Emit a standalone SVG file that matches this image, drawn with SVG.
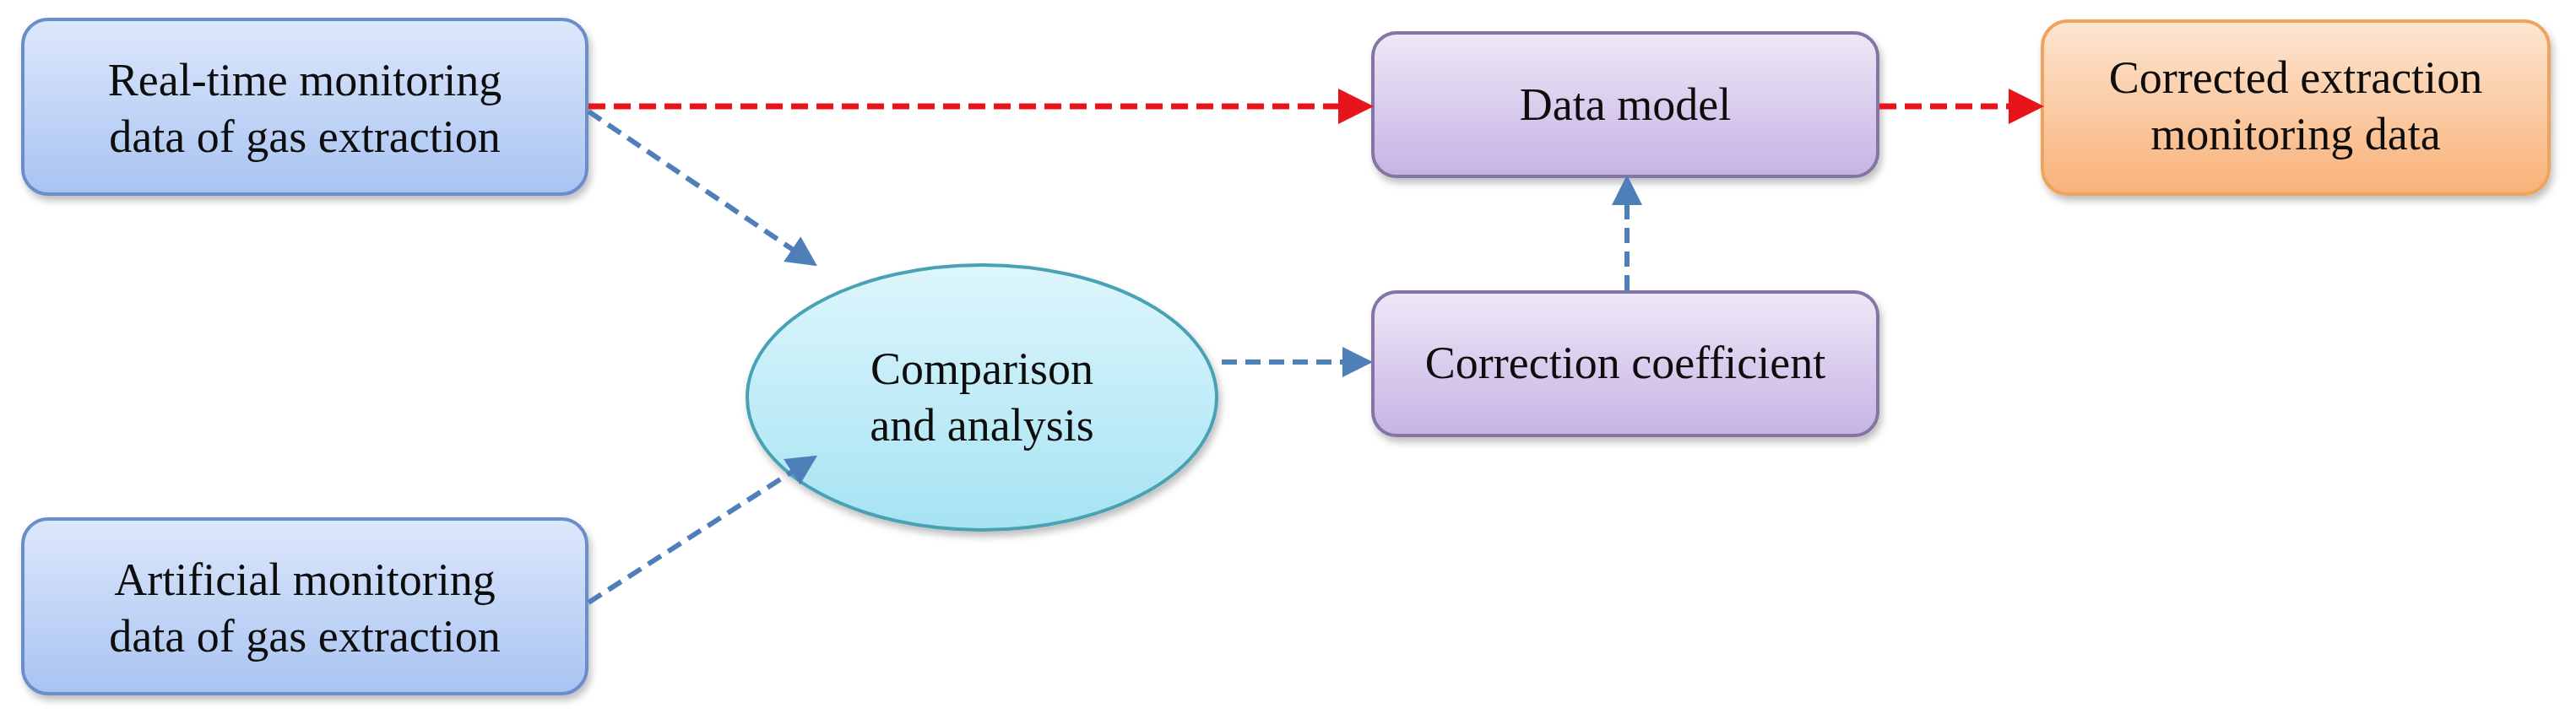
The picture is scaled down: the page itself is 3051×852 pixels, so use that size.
<svg xmlns="http://www.w3.org/2000/svg" width="3051" height="852" viewBox="0 0 3051 852">
<style>
text{font-family:"Liberation Serif","Times New Roman",serif;font-size:54px;fill:#111;text-anchor:middle}
.blue{fill:url(#gb);stroke:#6b8dcc;stroke-width:4}
.purp{fill:url(#gp);stroke:#8474a4;stroke-width:4}
.orng{fill:url(#go);stroke:#f0a35e;stroke-width:4}
.red{stroke:#e8141c;stroke-width:7;stroke-dasharray:20 10;fill:none;marker-end:url(#ar)}
.bl{stroke:#4f7fb8;stroke-width:6;stroke-dasharray:18 10;fill:none;marker-end:url(#ab)}
</style>
<defs>
<linearGradient id="gb" x1="0" y1="0" x2="0" y2="1"><stop offset="0" stop-color="#dde8fc"/><stop offset="1" stop-color="#a8c3f1"/></linearGradient>
<linearGradient id="gp" x1="0" y1="0" x2="0" y2="1"><stop offset="0" stop-color="#eee8f7"/><stop offset="1" stop-color="#c6b3e4"/></linearGradient>
<linearGradient id="go" x1="0" y1="0" x2="0" y2="1"><stop offset="0" stop-color="#fde6d2"/><stop offset="1" stop-color="#f9b178"/></linearGradient>
<linearGradient id="ge" x1="0" y1="0" x2="0" y2="1"><stop offset="0" stop-color="#ddf6fc"/><stop offset="1" stop-color="#a6e3f3"/></linearGradient>
<filter id="sh" x="-5%" y="-5%" width="110%" height="120%"><feDropShadow dx="3" dy="6" stdDeviation="4" flood-color="#000" flood-opacity="0.25"/></filter>
<marker id="ar" markerWidth="6" markerHeight="6" refX="5" refY="3" orient="auto" markerUnits="strokeWidth"><path d="M0,0 L6,3 L0,6 Z" fill="#e8141c"/></marker>
<marker id="ab" markerWidth="6" markerHeight="6" refX="5" refY="3" orient="auto" markerUnits="strokeWidth"><path d="M0,0 L6,3 L0,6 Z" fill="#4f7fb8"/></marker>
</defs>
<rect width="3051" height="852" fill="#fff"/>
<g id="realtime" filter="url(#sh)"><rect class="blue" x="27" y="23" width="668" height="207" rx="30"/>
<text x="361" y="113">Real-time monitoring</text><text x="361" y="180">data of gas extraction</text></g>
<g id="artificial" filter="url(#sh)"><rect class="blue" x="27" y="615" width="668" height="207" rx="30"/>
<text x="361" y="705">Artificial monitoring</text><text x="361" y="772">data of gas extraction</text></g>
<g id="comparison" filter="url(#sh)"><ellipse cx="1163" cy="471" rx="278" ry="157" fill="url(#ge)" stroke="#4aa2b4" stroke-width="4"/>
<text x="1163" y="455">Comparison</text><text x="1163" y="522">and analysis</text></g>
<g id="datamodel" filter="url(#sh)"><rect class="purp" x="1626" y="39" width="598" height="170" rx="28"/>
<text x="1925" y="142">Data model</text></g>
<g id="correction" filter="url(#sh)"><rect class="purp" x="1626" y="346" width="598" height="170" rx="28"/>
<text x="1925" y="448">Correction coefficient</text></g>
<g id="corrected" filter="url(#sh)"><rect class="orng" x="2419" y="25" width="600" height="205" rx="30"/>
<text x="2719" y="110">Corrected extraction</text><text x="2719" y="177">monitoring data</text></g>
<g id="connectors">
<path class="red" d="M697,126 L1620,126"/>
<path class="red" d="M2226,126 L2414,126"/>
<path class="bl" d="M697,132 L963,312"/>
<path class="bl" d="M697,714 L963,543"/>
<path class="bl" d="M1447,429 L1620,429"/>
<path class="bl" d="M1927,344 L1927,213"/>
</g>
</svg>
